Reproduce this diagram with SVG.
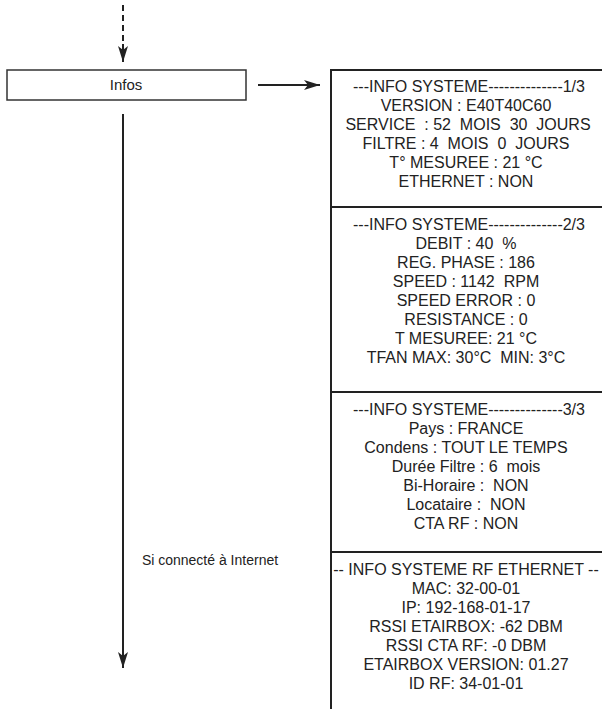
<svg xmlns="http://www.w3.org/2000/svg" width="602" height="709" viewBox="0 0 602 709">
<style>
text{font-family:"Liberation Sans",Arial,sans-serif;font-size:16px;fill:#222;white-space:pre}
.c{text-anchor:middle}
.ln{stroke:#222;stroke-width:2;fill:none}
.bx{stroke:#333;stroke-width:1.5;fill:#fff}
</style>
<defs>
<marker id="ah" markerWidth="16" markerHeight="10" refX="16" refY="5" orient="auto" markerUnits="userSpaceOnUse" viewBox="0 0 16 10">
<path d="M0,0 L16,5 L0,10 L4,5 Z" fill="#222"/>
</marker>
</defs>
<g id="connectors">
<path class="ln" d="M123,5 V46" stroke-dasharray="6,4"/>
<path class="ln" d="M123,44 V62" marker-end="url(#ah)"/>
<path class="ln" d="M258,85 H320" marker-end="url(#ah)"/>
<path class="ln" d="M123,114 V668" marker-end="url(#ah)"/>
<text class="c" x="210" y="565" style="font-size:14px">Si connecté à Internet</text>
</g>
<g id="infos">
<rect class="bx" x="7" y="70" width="239" height="30"/>
<text class="c" x="126" y="90" style="font-size:15px">Infos</text>
</g>
<g id="panel">
<path class="ln" d="M331,70 V709 M330,70 H602 M330,207 H602 M330,392 H602 M330,552 H602" stroke-width="2"/>
</g>
<g id="info1">
<text class="c" x="469" y="92">---INFO SYSTEME--------------1/3</text>
<text class="c" x="466" y="111">VERSION : E40T40C60</text>
<text class="c" x="468" y="130">SERVICE  : 52  MOIS  30  JOURS</text>
<text class="c" x="466" y="149">FILTRE : 4  MOIS  0  JOURS</text>
<text class="c" x="466" y="168">T° MESUREE : 21 °C</text>
<text class="c" x="466" y="187">ETHERNET : NON</text>
</g>
<g id="info2">
<text class="c" x="469" y="230">---INFO SYSTEME--------------2/3</text>
<text class="c" x="466" y="249">DEBIT : 40  %</text>
<text class="c" x="466" y="268">REG. PHASE : 186</text>
<text class="c" x="466" y="287">SPEED : 1142  RPM</text>
<text class="c" x="466" y="306">SPEED ERROR : 0</text>
<text class="c" x="466" y="325">RESISTANCE : 0</text>
<text class="c" x="466" y="344">T MESUREE: 21 °C</text>
<text class="c" x="466" y="363">TFAN MAX: 30°C  MIN: 3°C</text>
</g>
<g id="info3">
<text class="c" x="469" y="415">---INFO SYSTEME--------------3/3</text>
<text class="c" x="466" y="434">Pays : FRANCE</text>
<text class="c" x="466" y="453">Condens : TOUT LE TEMPS</text>
<text class="c" x="466" y="472">Durée Filtre : 6  mois</text>
<text class="c" x="466" y="491">Bi-Horaire :  NON</text>
<text class="c" x="466" y="510">Locataire :  NON</text>
<text class="c" x="466" y="529">CTA RF : NON</text>
</g>
<g id="info4">
<text class="c" x="466" y="575">-- INFO SYSTEME RF ETHERNET --</text>
<text class="c" x="466" y="594">MAC: 32-00-01</text>
<text class="c" x="466" y="613">IP: 192-168-01-17</text>
<text class="c" x="466" y="632">RSSI ETAIRBOX: -62 DBM</text>
<text class="c" x="466" y="651">RSSI CTA RF: -0 DBM</text>
<text class="c" x="466" y="670">ETAIRBOX VERSION: 01.27</text>
<text class="c" x="466" y="689">ID RF: 34-01-01</text>
</g>
</svg>
